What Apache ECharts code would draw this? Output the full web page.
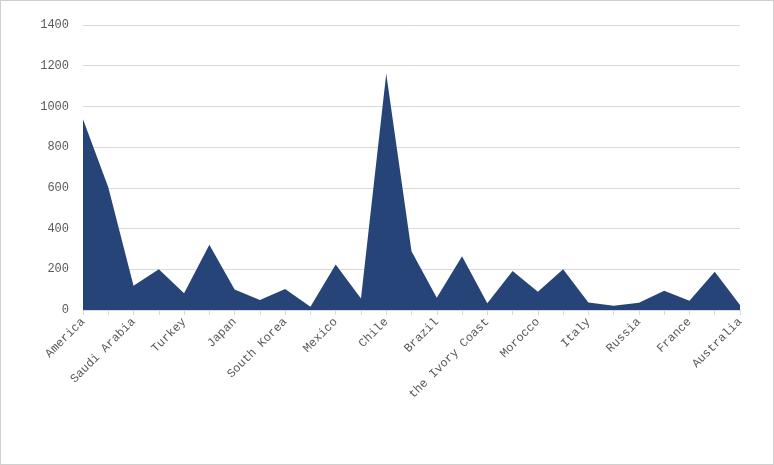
<!DOCTYPE html>
<html>
<head>
<meta charset="UTF-8">
<script src="https://cdn.jsdelivr.net/npm/echarts@6/dist/echarts.min.js"></script>
<style>
  body { margin: 0; }
  #chart { width: 772px; height: 463px; border: 1px solid #d0d0d0; }
</style>
</head>
<body>
<div id="chart"></div>
<script>
const countries = ['America', 'Canada', 'Saudi Arabia', 'Iran', 'Turkey', 'India', 'Japan', 'China',
  'South Korea', 'Peru', 'Mexico', 'Argentina', 'Chile', 'Colombia', 'Brazil', 'Nigeria',
  'the Ivory Coast', 'Egypt', 'Morocco', 'Spain', 'Italy', 'Germany', 'Russia', 'UK',
  'France', 'New Zealand', 'Australia'];
const values = [937, 603, 119, 200, 82, 321, 101, 49, 103, 16, 223, 57, 1161, 289, 60, 264,
  33, 191, 90, 200, 37, 21, 36, 95, 46, 188, 24];

const chart = echarts.init(document.getElementById('chart'));
chart.setOption({
  animation: false,
  grid: { left: 82, right: 33, top: 24, bottom: 154 },
  xAxis: {
    type: 'category',
    data: countries,
    boundaryGap: false,
    axisLine: { lineStyle: { color: '#d9d9d9' } },
    axisTick: { show: true, interval: 0, lineStyle: { color: '#d9d9d9' } },
    axisLabel: { interval: 1, rotate: 45, color: '#595959', fontFamily: 'Liberation Mono', fontSize: 12, margin: 10 }
  },
  yAxis: {
    type: 'value',
    min: 0, max: 1400, interval: 200,
    axisLine: { show: false },
    axisTick: { show: false },
    axisLabel: { color: '#595959', fontFamily: 'Liberation Mono', fontSize: 12, margin: 14, formatter: v => String(v) },
    splitLine: { lineStyle: { color: '#d9d9d9' } }
  },
  series: [{
    type: 'line',
    data: values,
    symbol: 'none',
    lineStyle: { width: 0 },
    areaStyle: { color: '#264478', opacity: 1 }
  }]
});
</script>
</body>
</html>
